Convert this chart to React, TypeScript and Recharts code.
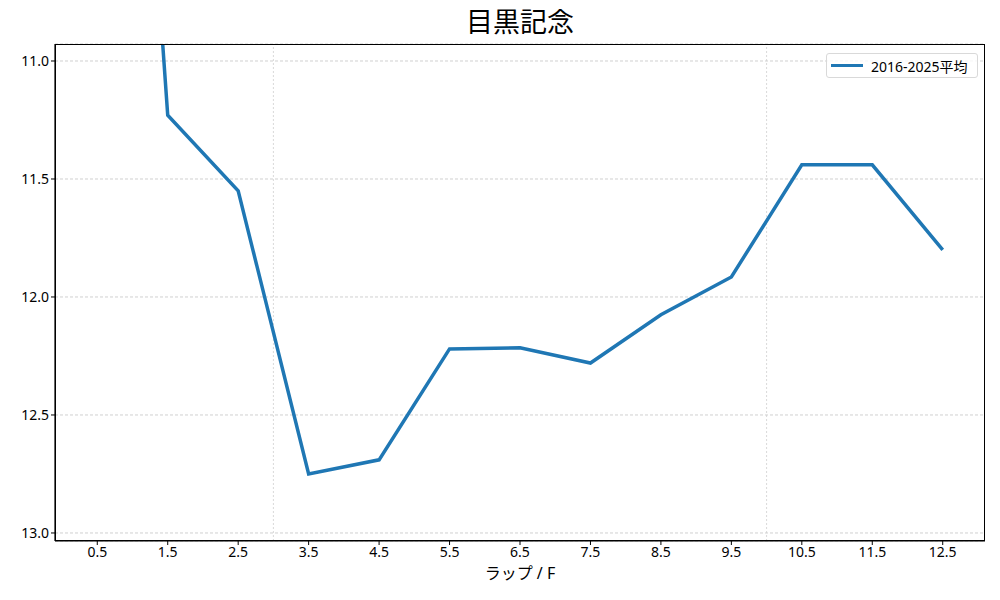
import { LineChart, Line, XAxis, YAxis, CartesianGrid, ReferenceLine } from 'recharts'

const laps = [0.5, 1.5, 2.5, 3.5, 4.5, 5.5, 6.5, 7.5, 8.5, 9.5, 10.5, 11.5, 12.5]
const avgTimes = [7.0, 11.23, 11.55, 12.75, 12.69, 12.22, 12.215, 12.28, 12.075, 11.915, 11.44, 11.44, 11.8]
const yTicks = [11.0, 11.5, 12.0, 12.5, 13.0]
const vGrid = [3, 10]
const seriesName = '2016-2025平均'

const data = laps.map((lap, i) => ({ lap, time: avgTimes[i] }))

const font = '"Noto Sans", "Noto Sans CJK JP", sans-serif'

export default function App() {
  return (
    <div style={{ position: 'relative', width: 1000, height: 600, background: '#fff' }}>
      <style>{'body{margin:0}'}</style>
      <div
        style={{
          position: 'absolute',
          top: 4,
          left: 55,
          width: 930,
          textAlign: 'center',
          fontFamily: font,
          fontSize: 27,
          lineHeight: '36px',
          color: '#000',
        }}
      >
        目黒記念
      </div>
      <div
        style={{
          position: 'absolute',
          top: 562,
          left: 55,
          width: 930,
          textAlign: 'center',
          fontFamily: font,
          fontSize: 16,
          lineHeight: '22px',
          color: '#000',
        }}
      >
        ラップ / F
      </div>
      <LineChart width={1000} height={600} data={data} margin={{ top: 44, right: 15, bottom: 0, left: 0 }}>
        <CartesianGrid vertical={false} stroke="#b0b0b0" strokeDasharray="3 2" strokeWidth={0.6} />
        {vGrid.map((v) => (
          <ReferenceLine key={v} x={v} stroke="#cfcfcf" strokeDasharray="2 2" strokeWidth={0.8} />
        ))}
        <XAxis
          dataKey="lap"
          type="number"
          domain={[-0.1, 13.1]}
          ticks={laps}
          tickFormatter={(v: number) => v.toFixed(1)}
          height={59}
          axisLine={{ stroke: '#000', strokeWidth: 1.2 }}
          tickLine={{ stroke: '#000' }}
          tickSize={4}
          tick={{ fill: '#000', fontSize: 14, fontFamily: font }}
          allowDataOverflow
        />
        <YAxis
          reversed
          type="number"
          domain={[10.928, 13.034]}
          ticks={yTicks}
          tickFormatter={(v: number) => v.toFixed(1)}
          width={55}
          axisLine={{ stroke: '#000', strokeWidth: 1.2 }}
          tickLine={{ stroke: '#000' }}
          tickSize={4}
          tick={{ fill: '#000', fontSize: 14, fontFamily: font }}
          allowDataOverflow
        />
        <Line
          dataKey="time"
          name={seriesName}
          stroke="#1f77b4"
          strokeWidth={3.5}
          dot={false}
          isAnimationActive={false}
        />
      </LineChart>
      <div
        style={{
          position: 'absolute',
          left: 55,
          top: 44,
          width: 930,
          height: 497,
          boxSizing: 'border-box',
          border: '1.2px solid #000',
          pointerEvents: 'none',
        }}
      />
      <div
        style={{
          position: 'absolute',
          left: 826,
          top: 53,
          width: 152,
          height: 25,
          boxSizing: 'border-box',
          display: 'flex',
          alignItems: 'center',
          border: '1px solid #d9d9d9',
          borderRadius: 3,
          background: 'rgba(255,255,255,0.8)',
          paddingLeft: 4,
          fontFamily: font,
          fontSize: 14,
          color: '#000',
        }}
      >
        <span style={{ display: 'inline-block', width: 32, height: 3, background: '#1f77b4', marginRight: 8 }} />
        {seriesName}
      </div>
    </div>
  )
}
